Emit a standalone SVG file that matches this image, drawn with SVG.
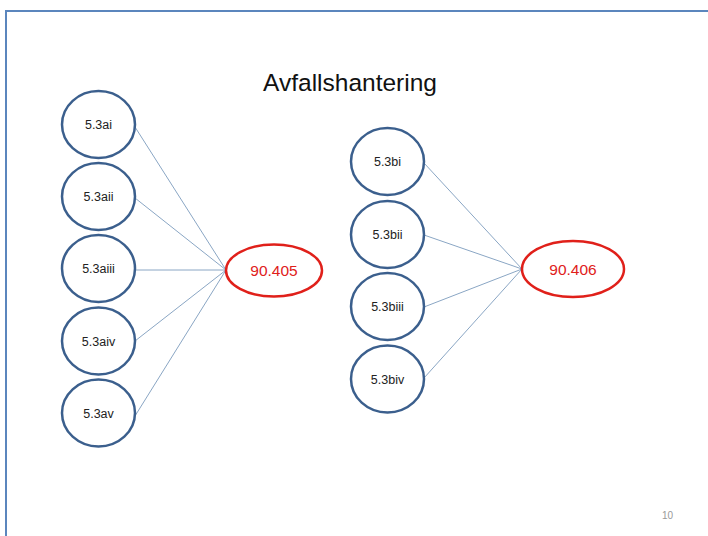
<svg xmlns="http://www.w3.org/2000/svg" width="708" height="536" viewBox="0 0 708 536">
<style>
.src ellipse{fill:#fff;stroke:#3b5f8d;stroke-width:2.5}
.src text{font-family:"Liberation Sans",Arial,sans-serif;font-size:12.5px;fill:#222;text-anchor:middle}
.dst ellipse{fill:#fff;stroke:#e0201a;stroke-width:2.5}
.dst text{font-family:"Liberation Sans",Arial,sans-serif;font-size:15.5px;fill:#e0201a;text-anchor:middle}
#connectors line{stroke:#8aa6c4;stroke-width:1}
</style>
<rect x="0" y="0" width="708" height="536" fill="#fff"/>
<path d="M6 536 V11 H708" fill="none" stroke="#5b86bd" stroke-width="2"/>
<text x="350" y="91" font-family="'Liberation Sans',Arial,sans-serif" font-size="24.5" fill="#111" text-anchor="middle">Avfallshantering</text>
<g id="connectors">
<line x1="135" y1="127" x2="226" y2="270"/>
<line x1="135" y1="198" x2="226" y2="270"/>
<line x1="135" y1="270" x2="226" y2="270"/>
<line x1="135" y1="341" x2="226" y2="270"/>
<line x1="135" y1="416" x2="226" y2="270"/>
<line x1="424" y1="163" x2="522" y2="269"/>
<line x1="424" y1="235" x2="522" y2="269"/>
<line x1="424" y1="307" x2="522" y2="269"/>
<line x1="424" y1="378" x2="522" y2="269"/>
</g>
<g id="n-5.3ai" class="src"><ellipse cx="98.5" cy="124.5" rx="36.5" ry="33.5"/><text x="98.5" y="129">5.3ai</text></g>
<g id="n-5.3aii" class="src"><ellipse cx="98.5" cy="196.5" rx="36.5" ry="33.5"/><text x="98.5" y="201">5.3aii</text></g>
<g id="n-5.3aiii" class="src"><ellipse cx="98.5" cy="268.5" rx="36.5" ry="33.5"/><text x="98.5" y="273">5.3aiii</text></g>
<g id="n-5.3aiv" class="src"><ellipse cx="98.5" cy="341" rx="36.5" ry="33.5"/><text x="98.5" y="345.5">5.3aiv</text></g>
<g id="n-5.3av" class="src"><ellipse cx="98.5" cy="413" rx="36.5" ry="33.5"/><text x="98.5" y="417.5">5.3av</text></g>
<g id="n-90.405" class="dst"><ellipse cx="274" cy="270.5" rx="48" ry="26"/><text x="274" y="275.5">90.405</text></g>
<g id="n-5.3bi" class="src"><ellipse cx="387.5" cy="161.5" rx="36.5" ry="33.5"/><text x="387.5" y="166">5.3bi</text></g>
<g id="n-5.3bii" class="src"><ellipse cx="387.5" cy="234.5" rx="36.5" ry="33.5"/><text x="387.5" y="239">5.3bii</text></g>
<g id="n-5.3biii" class="src"><ellipse cx="387.5" cy="306.5" rx="36.5" ry="33.5"/><text x="387.5" y="311">5.3biii</text></g>
<g id="n-5.3biv" class="src"><ellipse cx="387.5" cy="379" rx="36.5" ry="33.5"/><text x="387.5" y="383.5">5.3biv</text></g>
<g id="n-90.406" class="dst"><ellipse cx="573" cy="269" rx="51" ry="28"/><text x="573" y="274.5">90.406</text></g>
<text x="667.5" y="519" font-family="'Liberation Sans',Arial,sans-serif" font-size="10" fill="#999" text-anchor="middle">10</text>
</svg>
